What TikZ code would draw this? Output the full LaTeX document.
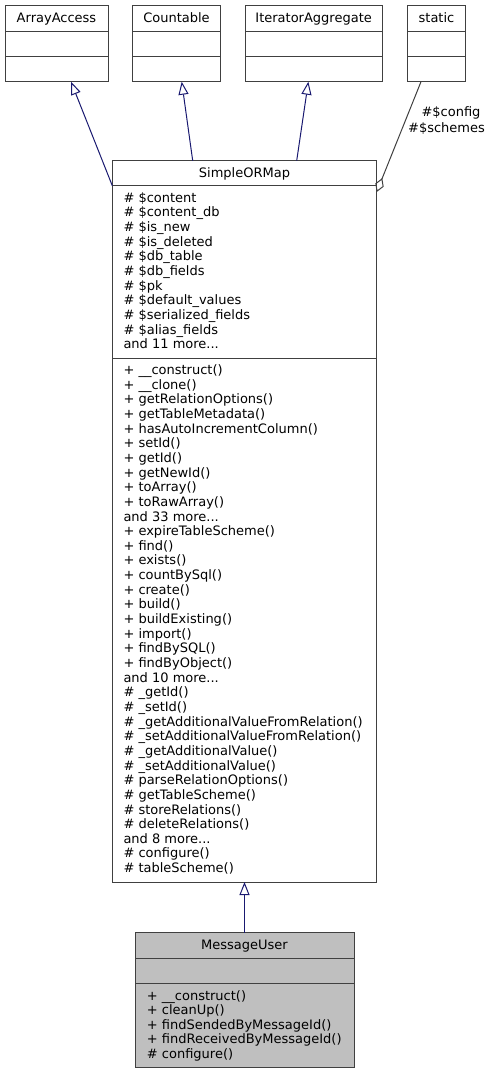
\documentclass[tikz,border=0pt]{standalone}
\usepackage{fontspec}
\setmainfont{DejaVu Sans}
\usetikzlibrary{arrows.meta,calc}
\definecolor{navy}{HTML}{191970}
\definecolor{boxc}{HTML}{404040}
\definecolor{grayline}{HTML}{404040}
\definecolor{mainfill}{HTML}{BFBFBF}
\newcommand{\memfont}{\fontsize{13}{14.65}\selectfont}
\tikzset{
  cls/.style={draw=boxc, line width=1pt, inner sep=0pt, outer sep=0pt, anchor=north west, fill=white},
  ttl/.style={inner sep=0pt, anchor=base, font=\memfont},
  mem/.style={inner sep=0pt, anchor=base west, font=\memfont},
  div/.style={draw=boxc, line width=1pt},
  inh/.style={draw=navy, line width=1pt, -{Triangle[open, length=13pt, width=10pt]}},
  usage/.style={draw=grayline, line width=1pt, {Diamond[open, length=15pt, width=9pt]}-},
}
\begin{document}
\begin{tikzpicture}[x=1pt,y=-1pt]
\useasboundingbox (0,0) rectangle (491,1073);

% top boxes
\node[cls, minimum width=103pt, minimum height=76pt] (aa) at (5,5.7) {};
\node[cls, minimum width=87.6pt, minimum height=76pt] (ct) at (132.7,5.7) {};
\node[cls, minimum width=137.3pt, minimum height=76pt] (ia) at (245,5.7) {};
\node[cls, minimum width=58.4pt, minimum height=76pt] (st) at (407.3,5.7) {};
\foreach \b in {aa,ct,ia,st}{
  \draw[div] ($(\b.north west)+(0,25.6)$) -- ($(\b.north east)+(0,25.6)$);
  \draw[div] ($(\b.north west)+(0,51)$) -- ($(\b.north east)+(0,51)$);
}
\node[ttl] (aat) at ($(aa.north)+(0,16.6)$) {ArrayAccess};
\node[ttl] (ctt) at ($(ct.north)+(0,16.6)$) {Countable};
\node[ttl] (iat) at ($(ia.north)+(0,16.6)$) {IteratorAggregate};
\node[ttl] (stt) at ($(st.north)+(0,16.6)$) {static};

% SimpleORMap
\node[cls, minimum width=264.4pt, minimum height=721.3pt] (som) at (112.3,160.7) {};
\draw[div] ($(som.north west)+(0,25)$) -- ($(som.north east)+(0,25)$);
\draw[div] ($(som.north west)+(0,197.6)$) -- ($(som.north east)+(0,197.6)$);
\node[ttl] (somt) at ($(som.north)+(0,16.6)$) {SimpleORMap};
\node[mem] (soma) at (123.3,202.3) {\parbox[t]{250pt}{\memfont\lineskiplimit=-20pt
\# \$content\\
\# \$content\_db\\
\# \$is\_new\\
\# \$is\_deleted\\
\# \$db\_table\\
\# \$db\_fields\\
\# \$pk\\
\# \$default\_values\\
\# \$serialized\_fields\\
\# \$alias\_fields\\
and 11 more...}};
\node[mem] (somm) at (123.3,374.5) {\parbox[t]{250pt}{\memfont\lineskiplimit=-20pt
+ \_\_construct()\\
+ \_\_clone()\\
+ getRelationOptions()\\
+ getTableMetadata()\\
+ hasAutoIncrementColumn()\\
+ setId()\\
+ getId()\\
+ getNewId()\\
+ toArray()\\
+ toRawArray()\\
and 33 more...\\
+ expireTableScheme()\\
+ find()\\
+ exists()\\
+ countBySql()\\
+ create()\\
+ build()\\
+ buildExisting()\\
+ import()\\
+ findBySQL()\\
+ findByObject()\\
and 10 more...\\
\# \_getId()\\
\# \_setId()\\
\# \_getAdditionalValueFromRelation()\\
\# \_setAdditionalValueFromRelation()\\
\# \_getAdditionalValue()\\
\# \_setAdditionalValue()\\
\# parseRelationOptions()\\
\# getTableScheme()\\
\# storeRelations()\\
\# deleteRelations()\\
and 8 more...\\
\# configure()\\
\# tableScheme()}};

% MessageUser
\node[cls, fill=mainfill, minimum width=219pt, minimum height=134.6pt] (mu) at (135,932.7) {};
\draw[div] ($(mu.north west)+(0,25.3)$) -- ($(mu.north east)+(0,25.3)$);
\draw[div] ($(mu.north west)+(0,50.6)$) -- ($(mu.north east)+(0,50.6)$);
\node[ttl] (mut) at ($(mu.north)+(0,16.6)$) {MessageUser};
\node[mem] (mum) at (146.7,1000) {\parbox[t]{200pt}{\memfont\lineskiplimit=-20pt
+ \_\_construct()\\
+ cleanUp()\\
+ findSendedByMessageId()\\
+ findReceivedByMessageId()\\
\# configure()}};

% connectors
\draw[inh] ($(som.north west)+(0,25)$) -- ($(aa.south)+(14.5,0)$);
\draw[inh] ($(som.north)+(-51.8,0)$) -- ($(ct.south)+(5.2,0)$);
\draw[inh] ($(som.north)+(52.2,0)$) -- ($(ia.south)+(-5.3,0)$);
\draw[usage] ($(som.north east)+(0,31.3)$) -- ($(st.south)+(-15.5,0)$);
\draw[inh] (mu.north) -- (som.south);

% edge label
\node[ttl] (lab1) at (451,116.5) {\#\$config};
\node[ttl] (lab2) at (446.5,132) {\#\$schemes};
\end{tikzpicture}
\end{document}
